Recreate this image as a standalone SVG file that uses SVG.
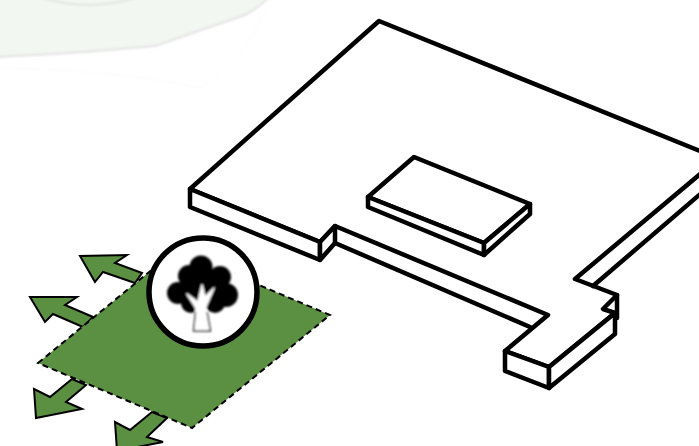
<svg xmlns="http://www.w3.org/2000/svg" width="699" height="446" viewBox="0 0 699 446">
<style>
.b{fill:none;stroke:#000;stroke-width:4.500;stroke-linejoin:round;stroke-linecap:round}
.t{fill:#fff;stroke:#000;stroke-width:4.500;stroke-linejoin:round}
.a{fill:#5b8f41;stroke:#000;stroke-width:2;stroke-linejoin:miter}
</style>
<defs><filter id="s" x="-10%" y="-10%" width="120%" height="120%"><feGaussianBlur stdDeviation="0.8"/></filter>
<filter id="f" x="-5%" y="-5%" width="110%" height="110%"><feGaussianBlur stdDeviation="0.8"/></filter></defs>
<rect width="699" height="446" fill="#fff"/>
<g id="background" filter="url(#f)">
<path d="M-5 57Q70 54 155 46L245 15Q262 6 270 -5L-5 -5Z" fill="#f2f7f1" stroke="#e2e4e1" stroke-width="2"/>
<path d="M40 -3Q90 13 137 -3" fill="none" stroke="#e2e4e1" stroke-width="2"/>
<path d="M0 68Q120 70 200 88Q245 60 268 5" fill="none" stroke="#fafafa" stroke-width="1"/>
</g>
<g id="arrows">
<path class="a" d="M142 273L115 263L127 255L80 256L95 282L103 272L135 283Z"/>
<path class="a" d="M93 317L65 305L77 297L30 297L45 322L53 314L83 327Z"/>
<path class="a" d="M72 379L50 397L34 389L36 418L82 409L66 402L86 385Z"/>
<path class="a" d="M152 412L130 430L115 422L117 451L163 442L147 437L167 418Z"/>
</g>
<g id="green-area">
<path d="M38 363L176 250L330 315L192 428Z" fill="#5b8f41" stroke="#000" stroke-width="2" stroke-dasharray="6 4"/>
</g>
<g id="building">
<path class="t" d="M379 21L705 153L705 170L575 279L617 295L603 309L615 313L549 367L505 351L548 315L335 226L320 242L190 189Z"/>
<path class="t" d="M190 189V207L320 260V242L190 189Z"/>
<path class="t" d="M320 260L335 243V226L320 242Z"/>
<path class="b" d="M335 243L530 327"/>
<path class="t" d="M505 351V371L549 388V367Z"/>
<path class="t" d="M549 388L615 334V313L549 367Z"/>
<path class="b" d="M617 295V318"/>
<path class="b" d="M593 286L705 190"/>
</g>
<g id="inner-block">
<path class="t" d="M368 197L414 157L530 204L484 243Z"/>
<path class="t" d="M368 197V207L484 255V243Z"/>
<path class="t" d="M484 243V255L530 214V204Z"/>
</g>
<g id="tree-badge">
<circle cx="203" cy="292" r="54" fill="#fff" stroke="#000" stroke-width="5.500"/>
<g filter="url(#s)">
<circle cx="201" cy="267" r="11.500"/><circle cx="189" cy="276" r="11"/><circle cx="220" cy="277" r="11"/>
<circle cx="178" cy="293" r="11"/><circle cx="226" cy="295" r="12"/><circle cx="191" cy="303" r="10"/><circle cx="215" cy="303" r="10"/>
<circle cx="202" cy="287" r="19"/>
<path d="M193.500 330.500L196 308L187 294L198 302L202 285L205 297L214 288L205 309L210.500 330.500Z" fill="#fff" stroke="#fff" stroke-width="1.500" stroke-linejoin="round"/>
<path d="M195.500 312L193.500 331H210.500L207 312" fill="none" stroke="#333" stroke-width="1.500"/>
</g>
</g>
</svg>
